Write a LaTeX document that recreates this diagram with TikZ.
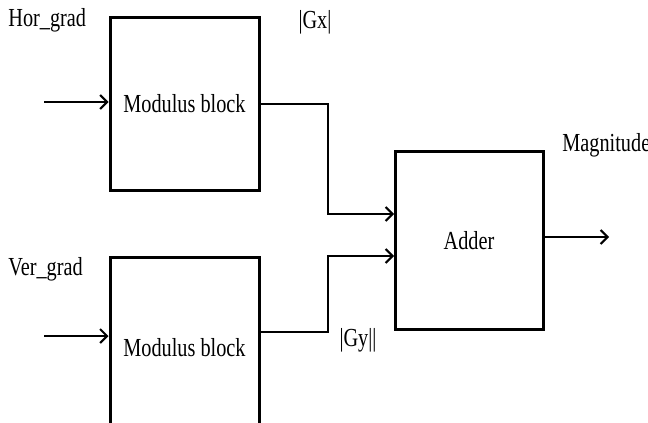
\documentclass[tikz,border=0pt]{standalone}
\usepackage{fontspec}
\setmainfont[FakeStretch=0.78]{Liberation Serif}
\usetikzlibrary{arrows.meta,positioning}

\begin{document}
\begin{tikzpicture}[x=.5pt,y=-.5pt,font=\fontsize{13}{15}\selectfont,
box/.style={draw,line width=1.5pt,minimum width=74.5pt,minimum height=86.5pt,inner sep=0pt},
arr/.style={-{Straight Barb[length=3.5pt,width=7pt]},line width=1pt},
lbl/.style={inner sep=0pt}]
\useasboundingbox(0,0)rectangle(648,423);
\clip(0,0)rectangle(648,423);

\node[box](modx)at(184.5,103.5){Modulus block};
\node[box](mody)at(184.5,343.5){};
\node at(184.5,348){Modulus block};
\node[box,minimum width=74pt,minimum height=89pt](adder)at(469,240.5){Adder};

\node[lbl,anchor=west](hor)at(8,20){Hor\_grad};
\node[lbl,anchor=west](ver)at(8,269){Ver\_grad};
\node[lbl](gx)at(315,22){|Gx|};
\node[lbl](gy)at(358,340){|Gy||};
\node[lbl,anchor=west](mag)at(562,145){Magnitude};

\coordinate(inx)at(44,102);
\coordinate(iny)at(44,336);
\coordinate(ax)at(394,214);
\coordinate(ay)at(394,256);
\coordinate(out)at(609,237);

\draw[arr](inx)--(inx-|modx.west);
\draw[arr](iny)--(iny-|mody.west);
\draw[arr](modx.east)--++(67,0)|-(ax);
\draw[arr]([yshift=6pt]mody.east)--++(67,0)|-(ay);
\draw[arr](out-|adder.east)--(out);
\end{tikzpicture}
\end{document}
